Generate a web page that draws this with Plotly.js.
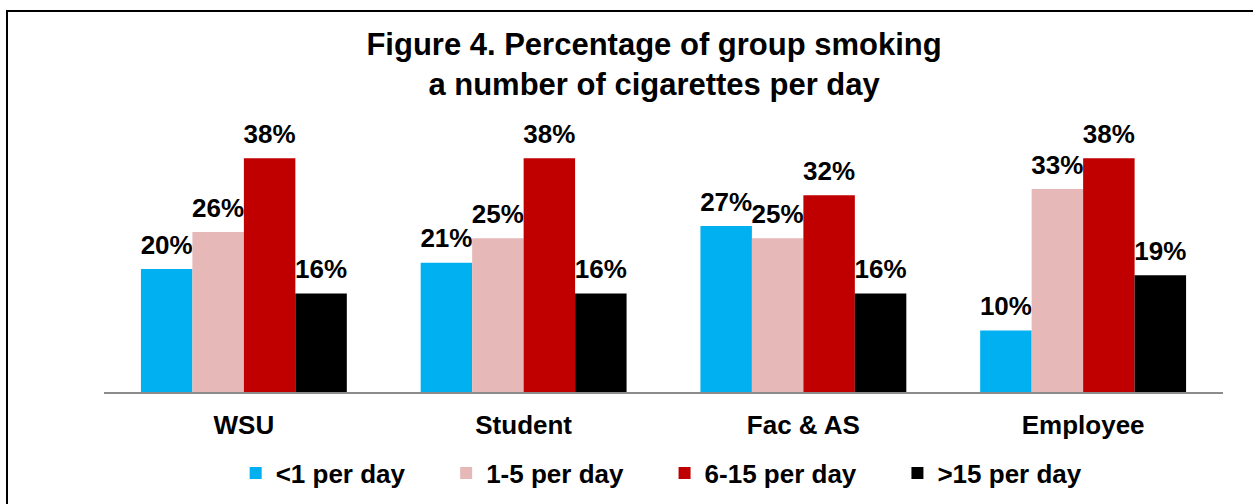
<!DOCTYPE html>
<html>
<head>
<meta charset="utf-8">
<script src="https://cdn.plot.ly/plotly-3.0.1.min.js"></script>
<style>
  html, body { margin: 0; padding: 0; background: #fff; }
  #wrap { position: relative; width: 1253px; height: 504px; overflow: hidden; }
  #chart { position: absolute; left: 0; top: 0; width: 1253px; height: 504px; }
  #frame { position: absolute; left: 6px; top: 10px; width: 1300px; height: 600px;
           border-left: 2px solid #000; border-top: 2px solid #000; pointer-events: none; }
</style>
</head>
<body>
<div id="wrap">
  <div id="chart"></div>
  <div id="frame"></div>
</div>
<script>
// Groups along the x axis
const groups = ['WSU', 'Student', 'Fac &amp; AS', 'Employee'];

// Percentage of each group by cigarettes smoked per day
const lessThanOne = [20, 21, 27, 10];
const oneToFive   = [26, 25, 25, 33];
const sixToFifteen = [38, 38, 32, 38];
const moreThanFifteen = [16, 16, 16, 19];

const seriesNames = ['<1 per day', '1-5 per day', '6-15 per day', '>15 per day'];
const seriesColors = ['#00B0F0', '#E6B8B7', '#C00000', '#000000'];
const seriesValues = [lessThanOne, oneToFive, sixToFifteen, moreThanFifteen];

const FONT = '"Liberation Sans", Arial, sans-serif';
// extra room after each legend entry
const LEGEND_PAD = '\u00A0\u00A0\u00A0\u00A0\u00A0';

// value label: large bold percentage plus a small blank line that lifts it off the bar
const valueLabel = v =>
  '<span style="font-size:26px"><b>' + v + '%</b></span><br>\u00A0';

const traces = seriesValues.map((vals, i) => ({
  type: 'bar',
  name: seriesNames[i] + LEGEND_PAD,
  x: groups,
  y: vals,
  text: vals.map(valueLabel),
  textposition: 'outside',
  constraintext: 'none',
  cliponaxis: false,
  textfont: { family: FONT, size: 8, color: '#000' },
  marker: { color: seriesColors[i], line: { width: 0 } },
  hoverinfo: 'skip'
}));

const layout = {
  width: 1253,
  height: 504,
  paper_bgcolor: '#fff',
  plot_bgcolor: '#fff',
  margin: { l: 104, r: 30, t: 146, b: 112, autoexpand: false },
  barmode: 'group',
  bargap: 0.264,
  bargroupgap: 0,
  font: { family: FONT, color: '#000' },
  title: {
    text: '<b>Figure 4. Percentage of group smoking<br>a number of cigarettes per day</b>',
    font: { family: FONT, size: 31, color: '#000' },
    x: 0.522,
    xanchor: 'center',
    yref: 'container',
    y: 0.891,
    yanchor: 'top'
  },
  xaxis: {
    type: 'category',
    automargin: false,
    showline: true,
    linecolor: '#8c8c8c',
    linewidth: 2,
    ticks: '',
    ticklabelstandoff: 9,
    tickfont: { family: FONT, size: 26, color: '#000', weight: 'bold' },
    showgrid: false,
    zeroline: false
  },
  yaxis: {
    range: [0, 40],
    visible: false,
    automargin: false,
    showgrid: false,
    zeroline: false
  },
  showlegend: true,
  legend: {
    orientation: 'h',
    x: 0.514,
    xanchor: 'center',
    y: -0.33,
    yanchor: 'middle',
    font: { family: FONT, size: 26, color: '#000', weight: 'bold' },
    itemclick: false,
    itemdoubleclick: false
  }
};

Plotly.newPlot('chart', traces, layout, { staticPlot: true, displayModeBar: false });
</script>
</body>
</html>
